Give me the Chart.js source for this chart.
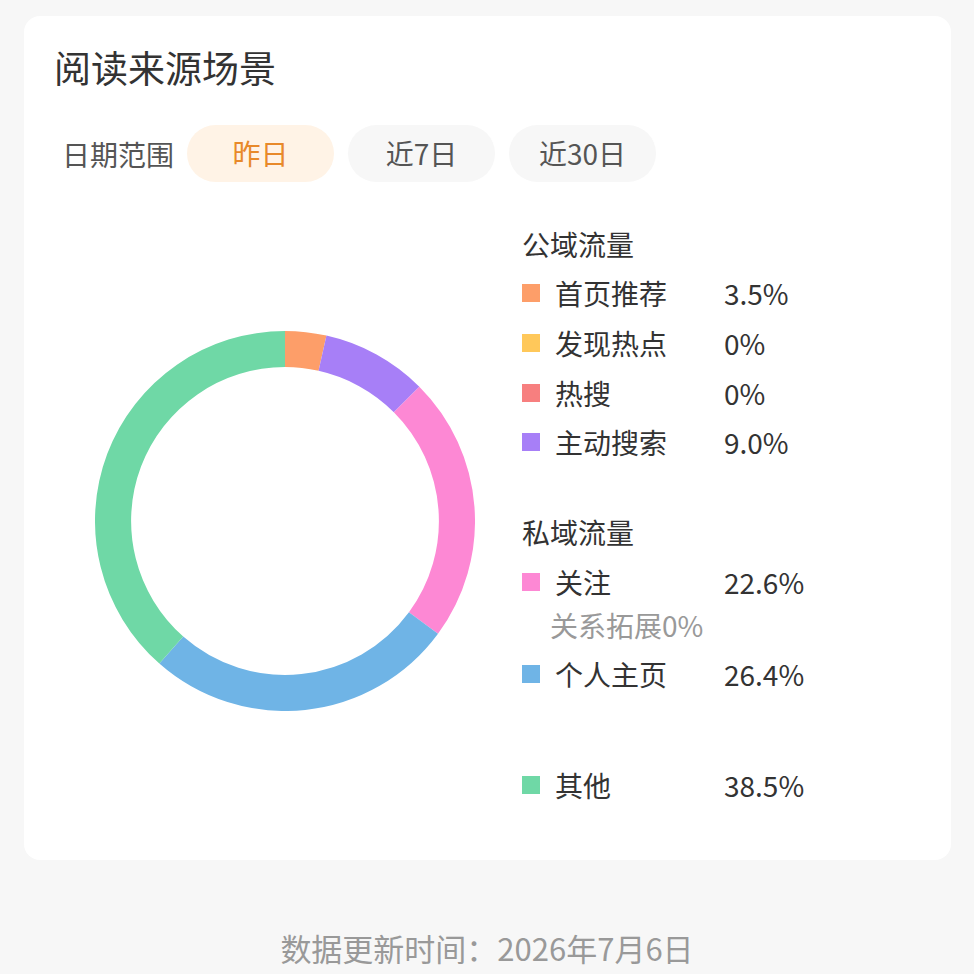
<!DOCTYPE html>
<html>
<head>
<meta charset="utf-8">
<script src="https://cdn.jsdelivr.net/npm/chart.js@4"></script>
<style>
  body { margin: 0; background: #f7f7f7; font-family: "Noto Sans CJK SC", "Noto Sans", sans-serif; width: 974px; height: 974px; position: relative; overflow: hidden; }
  .card { position: absolute; left: 24px; top: 16px; width: 927px; height: 844px; background: #fff; border-radius: 16px; }
  .title { position: absolute; left: 54px; top: 44px; font-size: 37px; color: #333; line-height: 46px; }
  .range { position: absolute; left: 62px; top: 136px; font-size: 28px; color: #555; line-height: 36px; }
  .pill { position: absolute; top: 125px; height: 57px; width: 147px; border-radius: 29px; background: #f7f7f7; color: #555; font-size: 28px; line-height: 57px; text-align: center; }
  .pill.on { background: #fff3e6; color: #e8892a; }
  #donut { position: absolute; left: 95px; top: 331px; }
  .legend div { position: absolute; font-size: 28px; color: #333; line-height: 36px; white-space: nowrap; }
  .legend .sw { width: 18px; height: 18px; }
  .legend .sub { color: #999; }
  .foot { position: absolute; left: 0; width: 974px; top: 928px; text-align: center; font-size: 31px; color: #999; line-height: 40px; }
</style>
</head>
<body>
<div class="card"></div>
<div class="title">阅读来源场景</div>
<div class="range">日期范围</div>
<div class="pill on" style="left:187px">昨日</div>
<div class="pill" style="left:348px">近7日</div>
<div class="pill" style="left:509px">近30日</div>
<canvas id="donut" width="380" height="380"></canvas>
<div class="legend" id="legend"></div>
<div class="foot">数据更新时间：2026年7月6日</div>
<script>
// segment data, clockwise from 12 o'clock
const labels = ['首页推荐', '发现热点', '热搜', '主动搜索', '关注', '关系拓展', '个人主页', '其他'];
const values = [3.5, 0, 0, 9.0, 22.6, 0, 26.4, 38.5];
const colors = ['#fd9e69', '#ffc85a', '#f77f7f', '#a77ff7', '#fd88d4', '#fd88d4', '#6fb4e6', '#6fd8a6'];
const groups = ['公域流量', '私域流量'];

// legend rows (label index, y center)
const legendRows = [
  { head: 0, y: 244 },
  { item: 0, y: 293 },
  { item: 1, y: 343 },
  { item: 2, y: 393 },
  { item: 3, y: 442 },
  { head: 1, y: 532 },
  { item: 4, y: 582 },
  { sub: 5, y: 625 },
  { item: 6, y: 674 },
  { item: 7, y: 785 }
];

const fmt = (v) => v === 0 ? '0%' : v.toFixed(1) + '%';

let legend = document.getElementById('legend');
legendRows.forEach((row) => {
  if (row.head !== undefined) {
    legend.innerHTML += `<div style="left:522px;top:${row.y - 18}px">${groups[row.head]}</div>`;
  } else if (row.item !== undefined) {
    let i = row.item;
    legend.innerHTML += `<div class="sw" style="left:522px;top:${row.y - 9}px;background:${colors[i]}"></div>`;
    legend.innerHTML += `<div style="left:555px;top:${row.y - 18}px">${labels[i]}</div>`;
    legend.innerHTML += `<div style="left:724px;top:${row.y - 18}px">${fmt(values[i])}</div>`;
  } else {
    let i = row.sub;
    legend.innerHTML += `<div class="sub" style="left:550px;top:${row.y - 18}px">${labels[i]}${fmt(values[i])}</div>`;
  }
});

const ctx = document.getElementById('donut').getContext('2d');
new Chart(ctx, {
  type: 'doughnut',
  data: {
    labels: labels,
    datasets: [{
      data: values,
      backgroundColor: colors,
      borderWidth: 0
    }]
  },
  options: {
    responsive: false,
    animation: false,
    cutout: '81%',
    layout: { padding: 0 },
    plugins: { legend: { display: false }, tooltip: { enabled: false } }
  }
});
</script>
</body>
</html>
